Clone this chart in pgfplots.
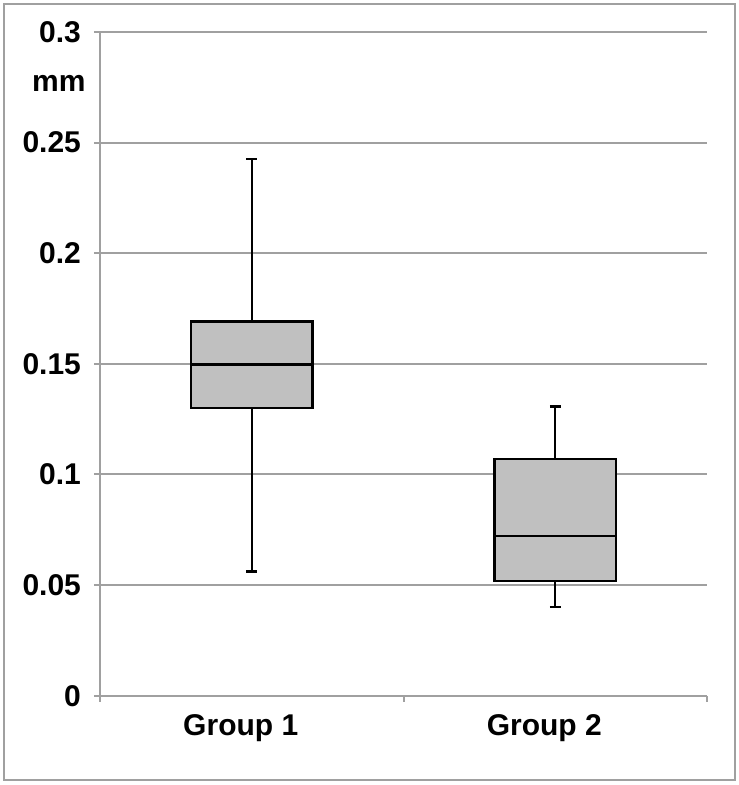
\documentclass[border=0pt]{standalone}
\usepackage{fontspec}
\setmainfont{Liberation Sans}
\usepackage{pgfplots}
\usepgfplotslibrary{statistics}
\pgfplotsset{compat=1.18}
\definecolor{gridc}{RGB}{160,160,160}
\definecolor{boxc}{RGB}{192,192,192}
\begin{document}
\begin{tikzpicture}
\useasboundingbox (-50pt,-44.65pt) rectangle (319pt,347.85pt);
\draw[gridc, line width=1.2pt] (-48pt,-42.15pt) rectangle (317.5pt,345.85pt);
\begin{axis}[
  at={(0pt,0pt)}, anchor=south west,
  scale only axis, width=303.5pt, height=331.85pt,
  xmin=0.5, xmax=2.5, ymin=0, ymax=0.3,
  axis lines*=left,
  axis line style={gridc, line width=1pt},
  ymajorgrids, grid style={gridc, line width=1pt},
  ytick={0,0.05,0.1,0.15,0.2,0.25,0.3},
  yticklabels={0,0.05,0.1,0.15,0.2,0.25,0.3},
  xtick={0.5,1.5,2.5}, xticklabels={},
  extra x ticks={1,2},
  extra x tick labels={Group 1,Group 2},
  extra x tick style={major tick length=0pt, xticklabel style={yshift=-6pt, xshift=-5.5pt}},
  tick style={gridc, line width=1pt},
  tick align=outside,
  major tick length=3pt,
  ticklabel style={font=\fontsize{15}{16}\selectfont\bfseries},
  yticklabel style={anchor=east, xshift=-3pt},
  boxplot/draw direction=y,
  boxplot/box extend=0.4,
  boxplot/whisker extend=0.036,
]
\addplot+[boxplot prepared={draw position=1, lower whisker=0.0561, lower quartile=0.1301, median=0.1497, upper quartile=0.1691, upper whisker=0.2426}, draw=black, fill=boxc, line width=1.2pt, solid, mark=none] coordinates {};
\addplot+[boxplot prepared={draw position=2, lower whisker=0.0402, lower quartile=0.0519, median=0.0722, upper quartile=0.1069, upper whisker=0.1307}, draw=black, fill=boxc, line width=1.2pt, solid, mark=none] coordinates {};
\end{axis}
\node[anchor=east, font=\fontsize{15}{16}\selectfont\bfseries, inner sep=0pt] at (-7pt,306.35pt) {mm};
\end{tikzpicture}
\end{document}
